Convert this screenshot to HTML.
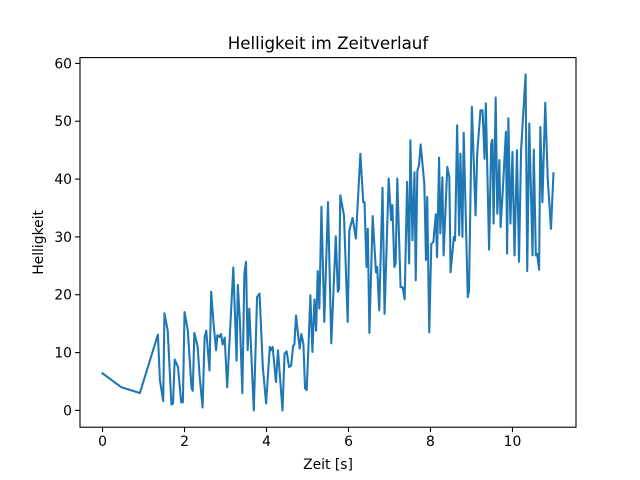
<!DOCTYPE html>
<html><head><meta charset="utf-8"><style>
body{margin:0;background:#fff;}
svg{display:block;font-family:"DejaVu Sans","Liberation Sans",sans-serif;}
</style></head><body>
<svg id="chart" width="640" height="480">
<rect x="0" y="0" width="640" height="480" fill="#fff"/>
<text x="328" y="49" text-anchor="middle" font-size="16.7">Helligkeit im Zeitverlauf</text>
<g id="axes"></g>
<text x="328" y="469" text-anchor="middle" font-size="13.9">Zeit [s]</text>
<text transform="translate(43,242.4) rotate(-90)" text-anchor="middle" font-size="13.9">Helligkeit</text>
</svg>
<script>
const times=[0,0.46,0.91,1.35,1.40,1.48,1.51,1.59,1.68,1.72,1.76,1.84,1.92,1.96,2.0,2.08,2.17,2.20,2.24,2.32,2.37,2.44,2.49,2.53,2.61,2.65,2.71,2.77,2.80,2.85,2.89,2.93,2.98,3.04,3.19,3.27,3.30,3.35,3.41,3.46,3.50,3.54,3.58,3.69,3.77,3.83,3.91,3.99,4.08,4.11,4.15,4.23,
4.28,4.39,4.44,4.49,4.55,4.60,4.65,4.68,4.72,4.76,4.81,4.85,4.90,4.94,4.98,5.02,5.07,5.12,5.17,5.21,5.25,5.29,5.34,5.41,5.50,5.58,5.69,5.74,5.77,5.80,5.89,5.98,6.02,6.10,6.18,6.29,6.36,6.39,6.44,6.47,6.51,6.59,6.67,6.70,6.75,6.83,6.88,6.98,7.04,7.07,7.12,7.15,7.19,7.27,7.32,7.37,7.43,7.48,7.51,7.56,7.61,7.64,7.68,7.72,
7.76,7.85,7.89,7.92,7.97,8.02,8.07,8.13,8.16,8.21,8.24,8.29,8.32,8.41,8.46,8.49,8.57,8.60,8.65,8.70,8.73,8.78,8.81,8.91,8.94,9.01,9.10,9.14,9.22,9.27,9.32,9.35,9.43,9.48,9.51,9.54,9.59,9.63,9.68,9.71,9.76,9.84,9.87,9.90,9.95,10.0,10.05,10.11,10.16,10.21,10.32,10.36,10.41,10.49,10.52,10.57,10.60,10.65,10.68,10.73,10.80,10.86,10.94,11.0];
const brightness=[6.4,4,3,13.1,5.2,1.6,16.8,13.8,1,1.2,8.8,7.5,1.4,1.4,17,13.8,3.9,3.4,13.4,11,5.8,0.5,12.6,13.8,6.9,20.5,14.8,10.4,13,12.7,13.2,11.4,12.6,4,24.7,8.6,21.7,15.6,3,23.7,25.7,10.4,17.6,0,19.6,20.2,7.5,1.2,11,10.4,11,4.9,
10.4,0,9.8,10.2,7.5,7.7,11.2,11.4,16.4,13.8,10.7,13.2,11.5,3.8,3.5,10.4,19.9,10.1,19.2,13.8,24.1,17.6,35.2,15.3,36,11.6,30.1,20.5,21,37.2,33.7,15.3,31.1,33.3,29.7,44.4,36,36,24.8,31.4,13.4,33.6,23.9,24.8,17.3,38.5,16.7,40.1,32.9,35.5,24.8,25.4,40.1,21.3,21.3,19.2,39.5,25.4,46.7,29.4,41.2,22.5,41.5,42.4,
46,39.2,26,36.9,13.5,28.8,29.1,33.9,26.5,43.7,30.6,40.3,26.8,42.1,40.3,23.9,30,29.4,49.3,30.3,44.4,30,48,19.6,20.7,52.5,33.7,44.4,51.9,51.9,43.5,53.1,27.8,46.1,46.8,32.3,54.1,34,43.3,31.7,37.5,48.2,27.1,50.5,32.3,44.7,26.8,45,25.7,45,58.1,24.1,49.6,26.8,45.1,26.8,27.1,24.3,49,36,53.2,40.1,31.4,41];
const xTicks=[0,2,4,6,8,10];
const yTicks=[0,10,20,30,40,50,60];
const L=80,R=576,T=57.6,B=427.2;
const xMin=-0.55,xMax=11.55,yMin=-2.905,yMax=61.005;
function sx(v){return L+(v-xMin)/(xMax-xMin)*(R-L);}
function sy(v){return B-(v-yMin)/(yMax-yMin)*(B-T);}
const NS='http://www.w3.org/2000/svg';
const g=document.getElementById('axes');
function mk(tag,attrs){const e=document.createElementNS(NS,tag);for(const k in attrs)e.setAttribute(k,attrs[k]);g.appendChild(e);return e;}
let d='';
times.forEach((t,i)=>{d+=(i?'L':'M')+sx(t).toFixed(2)+' '+sy(brightness[i]).toFixed(2);});
const line=mk('path',{d:d,fill:'none',stroke:'#1f77b4','stroke-width':2.08,'stroke-linejoin':'round','stroke-linecap':'square'});


const frame=mk('rect',{x:L,y:T,width:R-L,height:B-T,fill:'none',stroke:'#000','stroke-width':1.1});


xTicks.forEach(v=>{
  const x=sx(v);
  const tk=mk('line',{x1:x,x2:x,y1:B,y2:B+4.9,stroke:'#000','stroke-width':1.1});
  
  
  const tx=mk('text',{x:x,y:B+19,'text-anchor':'middle','font-size':13.9});
  tx.textContent=v;
  
  
});
yTicks.forEach(v=>{
  const y=sy(v);
  const tk=mk('line',{x1:L-4.9,x2:L,y1:y,y2:y,stroke:'#000','stroke-width':1.1});
  
  
  const tx=mk('text',{x:L-8,y:y+5,'text-anchor':'end','font-size':13.9});
  tx.textContent=v;
  
  
});
</script>
</body></html>
